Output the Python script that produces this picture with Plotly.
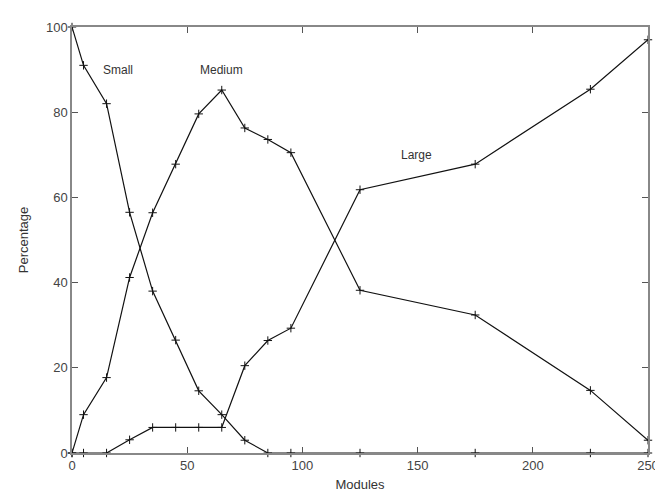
import plotly.graph_objects as go

x_small = [0, 5, 15, 25, 35, 45, 55, 65, 75, 85, 95, 125, 175, 225, 250]
y_small = [100, 91, 82, 56.5, 38, 26.5, 14.6, 9, 3, 0, 0, 0, 0, 0, 0]

x_medium = [0, 5, 15, 25, 35, 45, 55, 65, 75, 85, 95, 125, 175, 225, 250]
y_medium = [0, 9, 17.7, 41.2, 56.4, 67.8, 79.6, 85.2, 76.3, 73.6, 70.5, 38.2, 32.4, 14.7, 3]

x_large = [0, 5, 15, 25, 35, 45, 55, 65, 75, 85, 95, 125, 175, 225, 250]
y_large = [0, 0, 0, 3.1, 6, 6, 6, 6, 20.5, 26.4, 29.3, 61.8, 67.8, 85.4, 97]

labels = ["Small", "Medium", "Large"]
label_x = [20, 65, 149.5]
label_y = [90, 90, 70]

x_ticks = [0, 50, 100, 150, 200, 250]
y_ticks = [0, 20, 40, 60, 80, 100]

FONT = "Liberation Sans, Arial, sans-serif"

fig = go.Figure()
for xs, ys, name in [(x_small, y_small, "Small"), (x_medium, y_medium, "Medium"), (x_large, y_large, "Large")]:
    fig.add_trace(go.Scatter(
        x=xs, y=ys, mode="lines+markers", name=name,
        line=dict(color="#111111", width=1.2),
        marker=dict(symbol="cross-thin", size=6, line=dict(color="#111111", width=1)),
        cliponaxis=False,
    ))

for t, lx, ly in zip(labels, label_x, label_y):
    fig.add_annotation(x=lx, y=ly, text=t, showarrow=False,
                       font=dict(family=FONT, size=12, color="#333333"))

axis_common = dict(
    showgrid=False, zeroline=False, showline=True, linecolor="#888888", linewidth=1.5,
    mirror="ticks", ticks="inside", ticklen=6, tickcolor="#555555", tickwidth=1,
    tickfont=dict(family=FONT, size=13, color="#444444"),
)

fig.update_xaxes(range=[0, 250], tickvals=x_ticks,
                 title=dict(text="Modules", standoff=8,
                            font=dict(family=FONT, size=13, color="#333333")),
                 **axis_common)
fig.update_yaxes(range=[0, 100], tickvals=y_ticks,
                 title=dict(text="Percentage", standoff=14,
                            font=dict(family=FONT, size=13, color="#333333")),
                 **axis_common)

fig.update_layout(
    width=663, height=499,
    margin=dict(l=64, r=23, t=15, b=54),
    paper_bgcolor="white", plot_bgcolor="white",
    showlegend=False,
)

fig.write_html("out.html")
